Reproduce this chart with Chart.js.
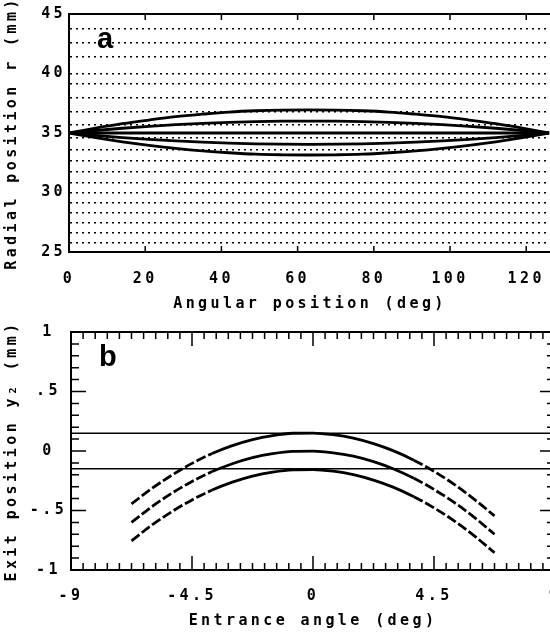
<!DOCTYPE html>
<html>
<head>
<meta charset="utf-8">
<script src="https://cdn.jsdelivr.net/npm/chart.js@4.4.0/dist/chart.umd.min.js"></script>
<style>
  html, body { margin: 0; padding: 0; background: #fff; }
  #marco { width: 550px; height: 636px; overflow: hidden; }
  canvas { display: block; }
</style>
</head>
<body>
<div id="marco">
  <canvas id="graficaA" width="570" height="318"></canvas>
  <canvas id="graficaB" width="570" height="318"></canvas>
</div>
<script>
// Panel a: posición radial frente a posición angular
const anguloA = [0, 7, 14, 21, 28, 35, 42, 49, 56, 63, 70, 77, 84, 91, 98, 105, 112, 119, 126];
const radioSup2 = [35, 35.41, 35.78, 36.09, 36.37, 36.58, 36.76, 36.87, 36.93, 36.95, 36.93, 36.87, 36.76, 36.58, 36.37, 36.09, 35.78, 35.41, 35];
const radioSup1 = [35, 35.21, 35.40, 35.56, 35.70, 35.81, 35.90, 35.96, 35.99, 36.0, 35.99, 35.96, 35.90, 35.81, 35.70, 35.56, 35.40, 35.21, 35];
const radioCentro = [35, 35, 35, 35, 35, 35, 35, 35, 35, 35, 35, 35, 35, 35, 35, 35, 35, 35, 35];
const radioInf1 = [35, 34.80, 34.62, 34.47, 34.34, 34.23, 34.15, 34.09, 34.06, 34.05, 34.06, 34.09, 34.15, 34.23, 34.34, 34.47, 34.62, 34.80, 35];
const radioInf2 = [35, 34.61, 34.26, 33.96, 33.71, 33.50, 33.34, 33.22, 33.17, 33.15, 33.17, 33.22, 33.34, 33.50, 33.71, 33.96, 34.26, 34.61, 35];
const lineasPunteadas = [25.76, 26.6, 27.44, 28.28, 29.12, 30, 30.8, 31.72, 32.65, 33.57, 34.58, 35.67, 36.76, 37.94, 39.12, 40, 41.39, 42.56, 43.74];
const etiquetasXA = [0, 20, 40, 60, 80, 100, 120];
const etiquetasYA = [25, 30, 35, 40, 45];

// Panel b: posición de salida frente a ángulo de entrada
const anguloB = [-6.75, -6, -5.25, -4.5, -3.75, -3, -2.25, -1.5, -0.75, 0, 0.75, 1.5, 2.25, 3, 3.75, 4.5, 5.25, 6, 6.75];
const salidaSup = [-0.445, -0.316, -0.203, -0.104, -0.021, 0.045, 0.096, 0.130, 0.149, 0.151, 0.137, 0.108, 0.062, 0.001, -0.077, -0.171, -0.280, -0.406, -0.545];
const salidaCentro = [-0.600, -0.469, -0.355, -0.256, -0.173, -0.107, -0.056, -0.022, -0.003, -0.001, -0.015, -0.044, -0.090, -0.151, -0.229, -0.323, -0.432, -0.558, -0.700];
const salidaInf = [-0.755, -0.624, -0.510, -0.411, -0.328, -0.262, -0.211, -0.177, -0.158, -0.156, -0.170, -0.199, -0.245, -0.306, -0.384, -0.478, -0.587, -0.713, -0.855];
const bandaX = [-9, 9];
const bandaSup = [0.15, 0.15];
const bandaInf = [-0.15, -0.15];
const etiquetasXB = [-9, -4.5, 0, 4.5, 9];
const etiquetasYB = [-1, -0.5, 0, 0.5, 1];

const fuente = { family: "'DejaVu Sans Mono', monospace", size: 15, weight: 'bold' };
const negro = '#000';

const puntos = (xs, ys) => xs.map((x, i) => ({ x: x, y: ys[i] }));
const esEtiqueta = (lista, v) => lista.some(e => Math.abs(e - v) < 1e-6);

// Espaciado de letras como en la fuente del trazador
const espaciado = {
  id: 'espaciado',
  beforeDraw(chart) { chart.ctx.letterSpacing = '3.4px'; }
};

// Marcas hacia dentro y letra del panel
const marcas = {
  id: 'marcas',
  afterDraw(chart, args, opts) {
    const { ctx, chartArea: area } = chart;
    const sx = chart.scales.x, sy = chart.scales.y;
    ctx.save();
    ctx.letterSpacing = '0px';
    ctx.strokeStyle = negro;
    ctx.lineWidth = 1.5;
    ctx.beginPath();
    sx.ticks.forEach(t => {
      const largo = t.label !== '' ? opts.xMayor : opts.xMenor;
      if (!largo) return;
      const px = sx.getPixelForValue(t.value);
      ctx.moveTo(px, area.top); ctx.lineTo(px, area.top + largo);
      ctx.moveTo(px, area.bottom); ctx.lineTo(px, area.bottom - largo);
    });
    sy.ticks.forEach(t => {
      const largo = t.label !== '' ? opts.yMayor : opts.yMenor;
      if (!largo) return;
      const py = sy.getPixelForValue(t.value);
      ctx.moveTo(area.left, py); ctx.lineTo(area.left + largo, py);
      ctx.moveTo(area.right, py); ctx.lineTo(area.right - largo, py);
    });
    ctx.stroke();
    ctx.fillStyle = negro;
    ctx.font = 'bold 29px "Liberation Sans", Arial, sans-serif';
    ctx.fillText(opts.letra, area.left + 28, area.top + 34);
    ctx.restore();
  }
};

const curva = (data, extra) => Object.assign({
  data: data,
  borderColor: negro,
  borderWidth: 2.8,
  pointRadius: 0,
  fill: false,
  cubicInterpolationMode: 'monotone'
}, extra || {});

const baseOpciones = {
  responsive: false,
  animation: false,
  devicePixelRatio: 1,
  events: [],
  plugins: { legend: { display: false }, tooltip: { enabled: false } }
};

// Gráfica a
new Chart(document.getElementById('graficaA'), {
  type: 'line',
  data: {
    datasets: [
      curva(puntos(anguloA, radioSup2)),
      curva(puntos(anguloA, radioSup1)),
      curva(puntos(anguloA, radioCentro)),
      curva(puntos(anguloA, radioInf1)),
      curva(puntos(anguloA, radioInf2))
    ]
  },
  options: Object.assign({}, baseOpciones, {
    layout: { padding: { top: 14, right: 19, bottom: 0, left: 0 } },
    plugins: Object.assign({}, baseOpciones.plugins, {
      marcas: { letra: 'a', xMayor: 6, xMenor: 6, yMayor: 0, yMenor: 0 }
    }),
    scales: {
      x: {
        type: 'linear', min: 0, max: 126.5,
        afterBuildTicks: s => { s.ticks = etiquetasXA.map(v => ({ value: v })); },
        afterFit: s => { s.height = 66; s.paddingLeft = 0; s.paddingRight = 0; },
        grid: { display: false, drawTicks: false },
        border: { display: true, color: negro, width: 2 },
        ticks: { font: fuente, color: negro, padding: 18, maxRotation: 0, autoSkip: false },
        title: { display: true, text: 'Angular position (deg)', font: fuente, color: negro, padding: { top: 0, bottom: 5 } }
      },
      xt: {
        type: 'linear', position: 'top', min: 0, max: 126.5,
        afterFit: s => { s.height = 0; },
        ticks: { display: false },
        grid: { display: false, drawTicks: false },
        border: { display: true, color: negro, width: 2 }
      },
      y: {
        type: 'linear', min: 25, max: 45,
        afterBuildTicks: s => {
          s.ticks = etiquetasYA.concat(lineasPunteadas.filter(v => !esEtiqueta(etiquetasYA, v)))
            .sort((a, b) => a - b).map(v => ({ value: v }));
        },
        afterFit: s => { s.width = 69; s.paddingTop = 0; s.paddingBottom = 0; },
        grid: {
          drawTicks: false,
          lineWidth: 1.5,
          color: c => (c.tick && (c.tick.value === 25 || c.tick.value === 45)) ? 'rgba(0,0,0,0)' : negro
        },
        border: { display: true, color: negro, width: 2, dash: [2, 4] },
        ticks: {
          font: fuente, color: negro, padding: 3, autoSkip: false,
          callback: v => esEtiqueta(etiquetasYA, v) ? String(v) : ''
        },
        title: { display: true, text: 'Radial position r (mm)', font: fuente, color: negro, padding: { top: 3, bottom: 0 } }
      }
    }
  }),
  plugins: [espaciado, marcas]
});

// Gráfica b
const tramo = ctx => {
  const xm = (ctx.p0.parsed.x + ctx.p1.parsed.x) / 2;
  return Math.abs(xm) > 3.4 ? [10, 3] : undefined;
};

new Chart(document.getElementById('graficaB'), {
  type: 'line',
  data: {
    datasets: [
      curva(puntos(bandaX, bandaSup), { borderWidth: 1.5, cubicInterpolationMode: 'default' }),
      curva(puntos(bandaX, bandaInf), { borderWidth: 1.5, cubicInterpolationMode: 'default' }),
      curva(puntos(anguloB, salidaSup), { segment: { borderDash: tramo } }),
      curva(puntos(anguloB, salidaCentro), { segment: { borderDash: tramo } }),
      curva(puntos(anguloB, salidaInf), { segment: { borderDash: tramo } })
    ]
  },
  options: Object.assign({}, baseOpciones, {
    layout: { padding: { top: 14, right: 15, bottom: 0, left: 0 } },
    plugins: Object.assign({}, baseOpciones.plugins, {
      marcas: { letra: 'b', xMayor: 14, xMenor: 7, yMayor: 15, yMenor: 8 }
    }),
    scales: {
      x: {
        type: 'linear', min: -9, max: 9,
        afterBuildTicks: s => {
          const lista = [];
          for (let i = 0; i <= 40; i++) lista.push({ value: Math.round((-9 + i * 0.45) * 100) / 100 });
          s.ticks = lista;
        },
        afterFit: s => { s.height = 66; s.paddingLeft = 0; s.paddingRight = 0; },
        grid: { display: false, drawTicks: false },
        border: { display: true, color: negro, width: 2 },
        ticks: {
          font: fuente, color: negro, padding: 17, maxRotation: 0, autoSkip: false,
          callback: v => esEtiqueta(etiquetasXB, v) ? String(v) : ''
        },
        title: { display: true, text: 'Entrance angle (deg)', font: fuente, color: negro, padding: { top: 0, bottom: 6 } }
      },
      xt: {
        type: 'linear', position: 'top', min: -9, max: 9,
        afterFit: s => { s.height = 0; s.paddingLeft = 0; s.paddingRight = 0; },
        ticks: { display: false },
        grid: { display: false, drawTicks: false },
        border: { display: true, color: negro, width: 2 }
      },
      y: {
        type: 'linear', min: -1, max: 1,
        afterBuildTicks: s => {
          const lista = [];
          for (let i = 0; i <= 20; i++) lista.push({ value: Math.round((-1 + i * 0.1) * 10) / 10 });
          s.ticks = lista;
        },
        afterFit: s => { s.width = 71; s.paddingTop = 0; s.paddingBottom = 0; },
        grid: { display: false, drawTicks: false },
        border: { display: true, color: negro, width: 2 },
        ticks: {
          font: fuente, color: negro, padding: 9, autoSkip: false, crossAlign: 'center',
          callback: v => {
            if (!esEtiqueta(etiquetasYB, v)) return '';
            if (Math.abs(v) < 1e-9) return '0';
            return (v < 0 ? '-' : '') + String(Math.abs(v)).replace(/^0/, '');
          }
        },
        title: { display: true, text: 'Exit position y\u2082 (mm)', font: fuente, color: negro, padding: { top: 3, bottom: 0 } }
      },
      yr: {
        type: 'linear', position: 'right', min: -1, max: 1,
        afterFit: s => { s.width = 0; s.paddingTop = 0; s.paddingBottom = 0; },
        ticks: { display: false },
        grid: { display: false, drawTicks: false },
        border: { display: true, color: negro, width: 2 }
      }
    }
  }),
  plugins: [espaciado, marcas]
});
</script>
</body>
</html>
